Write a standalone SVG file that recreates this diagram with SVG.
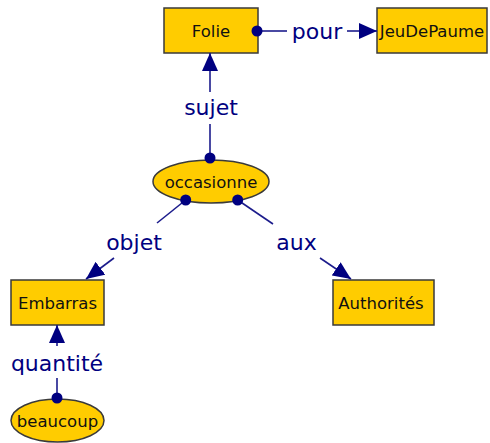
<svg xmlns="http://www.w3.org/2000/svg" width="490" height="443" viewBox="0 0 490 443">
  <style>
    .box { fill: #FFCC00; stroke: #3a3a3a; stroke-width: 1.5; }
    .node-text { font-family: "DejaVu Sans", "Liberation Sans", sans-serif; font-size: 16.5px; fill: #111; text-anchor: middle; dominant-baseline: central; }
    .label { font-family: "DejaVu Sans", "Liberation Sans", sans-serif; font-size: 22px; fill: #000080; text-anchor: middle; }
    .edge { stroke: #1c1c8c; stroke-width: 1.6; fill: none; }
    .dot { fill: #000080; }
  </style>
  <defs>
    <marker id="arrow" markerUnits="userSpaceOnUse" viewBox="0 0 18 16" refX="18" refY="8" markerWidth="18" markerHeight="16" orient="auto">
      <path d="M0,0 L18,8 L0,16 z" fill="#000080"/>
    </marker>
  </defs>

  <g id="Folie">
    <rect class="box" x="164" y="8" width="94" height="45"/>
    <text class="node-text" x="211" y="31">Folie</text>
  </g>

  <g id="JeuDePaume">
    <rect class="box" x="377" y="8" width="110" height="45"/>
    <text class="node-text" x="432" y="31">JeuDePaume</text>
  </g>

  <g id="occasionne">
    <ellipse class="box" cx="211" cy="181.5" rx="58" ry="21.5"/>
    <text class="node-text" x="211" y="182">occasionne</text>
  </g>

  <g id="Embarras">
    <rect class="box" x="11" y="280" width="93" height="45"/>
    <text class="node-text" x="57.5" y="303">Embarras</text>
  </g>

  <g id="Authorites">
    <rect class="box" x="333" y="280" width="101" height="45"/>
    <text class="node-text" x="381" y="303">Authorités</text>
  </g>

  <g id="beaucoup">
    <ellipse class="box" cx="57.5" cy="420.5" rx="46.5" ry="21.5"/>
    <text class="node-text" x="57.5" y="421">beaucoup</text>
  </g>

  <!-- connectors, drawn over the nodes so the source dots stay visible -->
  <g id="connectors">
    <!-- pour: Folie -> JeuDePaume -->
    <line class="edge" x1="257" y1="31" x2="287" y2="31"/>
    <line class="edge" x1="347" y1="31" x2="377" y2="31" marker-end="url(#arrow)"/>
    <circle class="dot" cx="257" cy="31" r="5.5"/>
    <text class="label" x="317" y="39">pour</text>

    <!-- sujet: occasionne -> Folie -->
    <line class="edge" x1="210" y1="158" x2="210" y2="124"/>
    <line class="edge" x1="210" y1="92" x2="210" y2="53" marker-end="url(#arrow)"/>
    <circle class="dot" cx="210" cy="158" r="5.5"/>
    <text class="label" x="211" y="115">sujet</text>

    <!-- objet: occasionne -> Embarras -->
    <line class="edge" x1="185.7" y1="200" x2="157" y2="223"/>
    <line class="edge" x1="114" y1="258" x2="86" y2="279" marker-end="url(#arrow)"/>
    <circle class="dot" cx="185.7" cy="200" r="5.5"/>
    <text class="label" x="134" y="250">objet</text>

    <!-- aux: occasionne -> Authorités -->
    <line class="edge" x1="237.7" y1="200" x2="273" y2="224"/>
    <line class="edge" x1="320" y1="258" x2="351" y2="279" marker-end="url(#arrow)"/>
    <circle class="dot" cx="237.7" cy="200" r="5.5"/>
    <text class="label" x="296.5" y="250">aux</text>

    <!-- quantité: beaucoup -> Embarras -->
    <line class="edge" x1="57" y1="398" x2="57" y2="378"/>
    <line class="edge" x1="57" y1="346" x2="57" y2="325" marker-end="url(#arrow)"/>
    <circle class="dot" cx="57" cy="398" r="5.5"/>
    <text class="label" x="57" y="371">quantité</text>
  </g>
</svg>
